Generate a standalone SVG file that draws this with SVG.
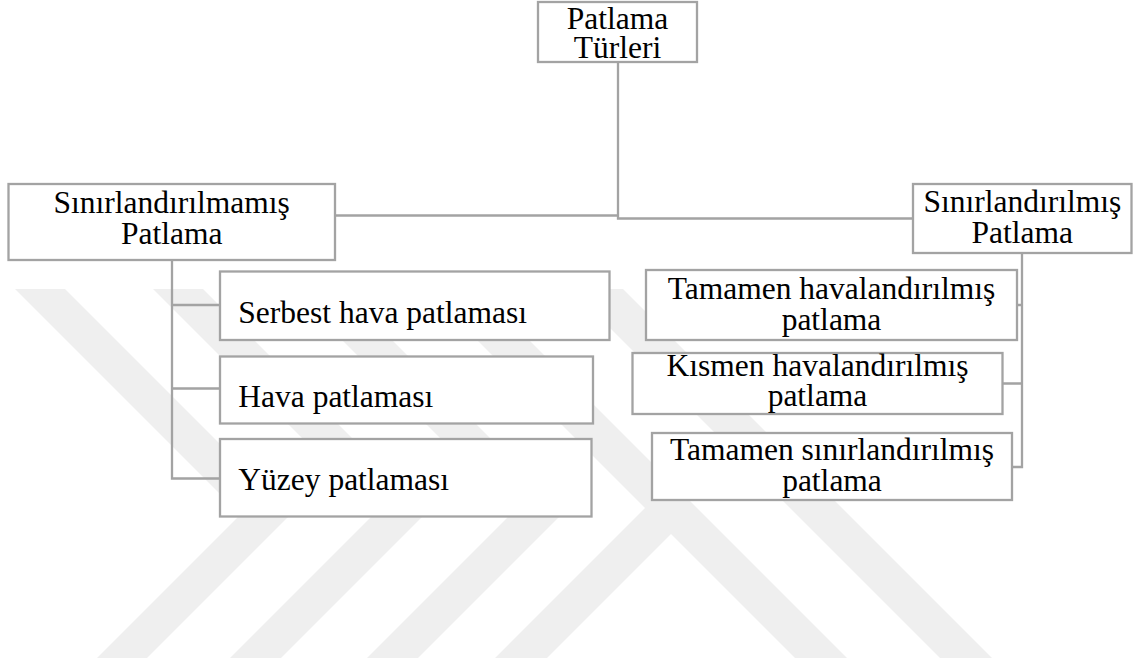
<svg xmlns="http://www.w3.org/2000/svg" width="1134" height="664" viewBox="0 0 1134 664">
<style>
.bg{fill:#ffffff}
.wm{fill:#efefef}
.box{fill:#ffffff;stroke:#a3a3a3;stroke-width:2.3}
.conn{fill:none;stroke:#a3a3a3;stroke-width:2.3}
.t{font-family:"Liberation Serif","Times New Roman",serif;font-size:31.5px;fill:#000000}
.c{text-anchor:middle}
</style>
<rect class="bg" x="0" y="0" width="1134" height="664"/>
<g id="watermark">
<polygon class="wm" points="15,289 65,289 290.5,514.5 147,658 97,658 240.5,514.5"/>
<polygon class="wm" points="153,289 203,289 426.5,512.5 281,658 230,658 376,512"/>
<polygon class="wm" points="291,289 341,289 564,512 418,658 367,658 513.5,511.5"/>
<polygon class="wm" points="426,289 478,289 847,658 795,658 671,534 547,658 495,658 645,508"/>
<polygon class="wm" points="571,289 623,289 992,658 940,658"/>
</g>
<g id="connectors">
<path class="conn" d="M335,215.5 H618"/>
<path class="conn" d="M618,62 V218.5 H913"/>
<path class="conn" d="M172,260 V478.5 H220 M172,305 H220 M172,388.5 H220"/>
<path class="conn" d="M1022,253 V467 H1012 M1017,305 H1022 M1002,383.5 H1022"/>
</g>
<g id="node-root">
<rect class="box" x="538" y="2" width="159" height="60"/>
<text class="t c" x="617.5" y="28.5">Patlama</text>
<text class="t c" x="617.5" y="57.5">Türleri</text>
</g>
<g id="node-unconfined">
<rect class="box" x="8.5" y="184" width="326.5" height="76"/>
<text class="t c" x="171.7" y="212.5">Sınırlandırılmamış</text>
<text class="t c" x="171.7" y="243.5">Patlama</text>
</g>
<g id="node-confined">
<rect class="box" x="913" y="184" width="218.5" height="69"/>
<text class="t c" x="1022.3" y="211.5">Sınırlandırılmış</text>
<text class="t c" x="1022.3" y="243">Patlama</text>
</g>
<g id="node-free-air">
<rect class="box" x="220" y="271.5" width="389.5" height="68.5"/>
<text class="t" x="238.3" y="322.5">Serbest hava patlaması</text>
</g>
<g id="node-air">
<rect class="box" x="220" y="356.5" width="373" height="67"/>
<text class="t" x="238.3" y="406.5">Hava patlaması</text>
</g>
<g id="node-surface">
<rect class="box" x="220" y="439" width="371.5" height="77.5"/>
<text class="t" x="238.3" y="490">Yüzey patlaması</text>
</g>
<g id="node-fully-vented">
<rect class="box" x="646" y="270" width="371" height="70"/>
<text class="t c" x="831.5" y="298.5">Tamamen havalandırılmış</text>
<text class="t c" x="831.5" y="330">patlama</text>
</g>
<g id="node-partially-vented">
<rect class="box" x="632.5" y="353" width="370" height="61"/>
<text class="t c" x="817.5" y="376">Kısmen havalandırılmış</text>
<text class="t c" x="817.5" y="406">patlama</text>
</g>
<g id="node-fully-confined">
<rect class="box" x="652" y="433" width="360" height="67"/>
<text class="t c" x="832" y="459.5">Tamamen sınırlandırılmış</text>
<text class="t c" x="832" y="490.5">patlama</text>
</g>
</svg>
